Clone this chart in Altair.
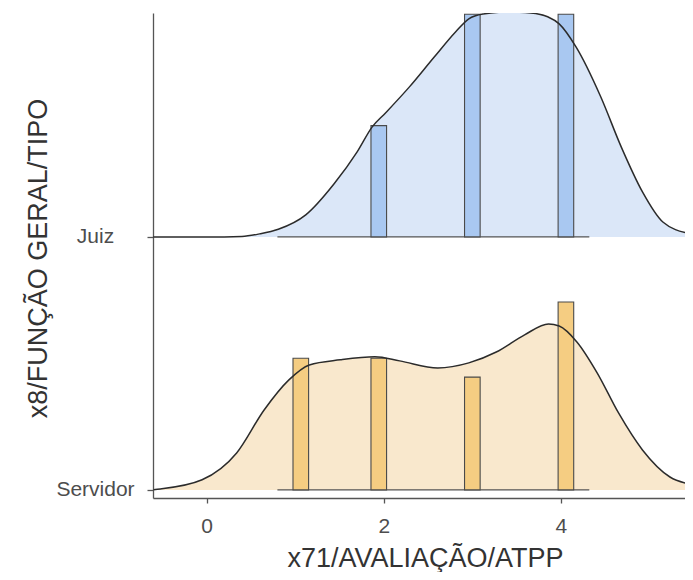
import altair as alt
import pandas as pd

# ---- data ----
categories = ["Servidor", "Juiz"]          # ridge order bottom -> top (y = 0, 1)

# density curves (x, ridge-scaled height)
juiz_dx = [-0.6, 0.0, 0.4, 0.6, 0.81, 1.12, 1.44, 1.7, 1.87, 2.02, 2.29, 2.57, 2.81, 2.96,
           3.12, 3.4, 3.66, 3.85, 3.98, 4.17, 4.45, 4.68, 4.92, 5.15, 5.46, 5.6]
juiz_dy = [0.0, 0.0, 0.002, 0.012, 0.03, 0.087, 0.21, 0.336, 0.435, 0.49, 0.593, 0.711, 0.81, 0.862,
           0.881, 0.889, 0.885, 0.87, 0.842, 0.751, 0.553, 0.356, 0.178, 0.059, 0.012, 0.004]

serv_dx = [-0.6, -0.52, -0.05, 0.34, 0.65, 0.93, 1.16, 1.51, 1.90, 2.18, 2.61, 2.96, 3.27,
           3.59, 3.86, 3.98, 4.18, 4.41, 4.65, 4.92, 5.23, 5.5, 5.6]
serv_dy = [0.001, 0.004, 0.04, 0.146, 0.316, 0.435, 0.494, 0.514, 0.526, 0.51, 0.482, 0.502, 0.545,
           0.613, 0.656, 0.648, 0.585, 0.462, 0.304, 0.158, 0.051, 0.02, 0.015]

# histogram bins (bin edges) and counts
bin_lo = [0.976, 1.856, 2.912, 3.968]
bin_hi = [1.152, 2.032, 3.088, 4.144]
serv_counts = [7, 7, 6, 10]
juiz_counts = [0, 1, 2, 2]
hist_range = [0.8, 4.32]
serv_per_count = 0.0743
juiz_per_count = 0.44

x_ticks = [0, 2, 4]

# ---- tables ----
dens = pd.concat([
    pd.DataFrame({"grp": "Juiz", "x": juiz_dx, "base": 1.0,
                  "top": [1.0 + v for v in juiz_dy]}),
    pd.DataFrame({"grp": "Servidor", "x": serv_dx, "base": 0.0,
                  "top": [0.0 + v for v in serv_dy]}),
])

bars_rows = []
for lo, hi, c in zip(bin_lo, bin_hi, juiz_counts):
    if c > 0:
        bars_rows.append({"grp": "Juiz", "x": lo, "x2": hi, "y": 1.0, "y2": 1.0 + c * juiz_per_count})
for lo, hi, c in zip(bin_lo, bin_hi, serv_counts):
    if c > 0:
        bars_rows.append({"grp": "Servidor", "x": lo, "x2": hi, "y": 0.0, "y2": c * serv_per_count})
bars = pd.DataFrame(bars_rows)

base_rows = pd.DataFrame({"grp": ["Juiz", "Servidor"], "x": [hist_range[0]] * 2,
                          "x2": [hist_range[1]] * 2, "y": [1.0, 0.0]})

area_colors = alt.Scale(domain=["Juiz", "Servidor"], range=["#dbe7f8", "#f9e8cd"])
bar_colors = alt.Scale(domain=["Juiz", "Servidor"], range=["#a9c8f1", "#f5cd82"])

xs = alt.Scale(domain=[-0.604, 5.40], nice=False, zero=False)
ys = alt.Scale(domain=[-0.032, 1.885], nice=False, zero=False)

label_expr = "datum.value == 1 ? '%s' : '%s'" % (categories[1], categories[0])

x_enc = alt.X("x:Q", scale=xs, title="x71/AVALIAÇÃO/ATPP",
              axis=alt.Axis(values=x_ticks, format="d", grid=False, tickSize=5, labelPadding=12,
                            labelFontSize=21, titleFontSize=27, labelColor="#4d4d4d",
                            titleColor="#333333", domainColor="#555555", tickColor="#555555",
                            domainWidth=1.3, tickWidth=1.3, labelFont="Liberation Sans",
                            titleFont="Liberation Sans", titleFontWeight="normal",
                            titleX=272, titleY=60, titleBaseline="middle", titleAlign="center"))

area = alt.Chart(dens).mark_area(clip=True, opacity=1, interpolate="monotone").encode(
    x=x_enc,
    y=alt.Y("base:Q", scale=ys, title="x8/FUNÇÃO GERAL/TIPO",
            axis=alt.Axis(values=[0, 1], labelExpr=label_expr, grid=False, tickSize=6,
                          labelPadding=52, labelAlign="center", labelBaseline="middle",
                          labelFontSize=21, titleFontSize=27, labelColor="#4d4d4d",
                          titleColor="#333333", domainColor="#555555", tickColor="#555555",
                          domainWidth=1.3, tickWidth=1.3, labelFont="Liberation Sans",
                          titleFont="Liberation Sans", titleFontWeight="normal",
                          titleX=-115, titleY=245, titleAngle=270, titleBaseline="middle",
                          titleAlign="center")),
    y2="top:Q",
    color=alt.Color("grp:N", scale=area_colors, legend=None),
    detail="grp:N",
)

base_line = alt.Chart(base_rows).mark_rule(color="#555555", strokeWidth=1.2, clip=True).encode(
    x=alt.X("x:Q", scale=xs), x2="x2:Q", y=alt.Y("y:Q", scale=ys)
)

rect = alt.Chart(bars).mark_rect(stroke="#4a4a4a", strokeWidth=1.1, clip=True).encode(
    x=alt.X("x:Q", scale=xs), x2="x2:Q",
    y=alt.Y("y:Q", scale=ys), y2="y2:Q",
    color=alt.Color("grp:N", scale=bar_colors, legend=None),
)

line = alt.Chart(dens).mark_line(color="#2b2b2b", strokeWidth=1.5, clip=True,
                                 interpolate="monotone").encode(
    x=alt.X("x:Q", scale=xs), y=alt.Y("top:Q", scale=ys), detail="grp:N"
)

chart = alt.layer(area, base_line, rect, line).resolve_scale(color="independent").properties(
    width=532, height=485,
    autosize=alt.AutoSizeParams(type="none"),
    padding={"left": 145, "top": 5, "right": 0, "bottom": 74},
    background="white",
).configure_view(stroke=None)

chart.save("out.html", embed_options={"renderer": "svg", "actions": False})
